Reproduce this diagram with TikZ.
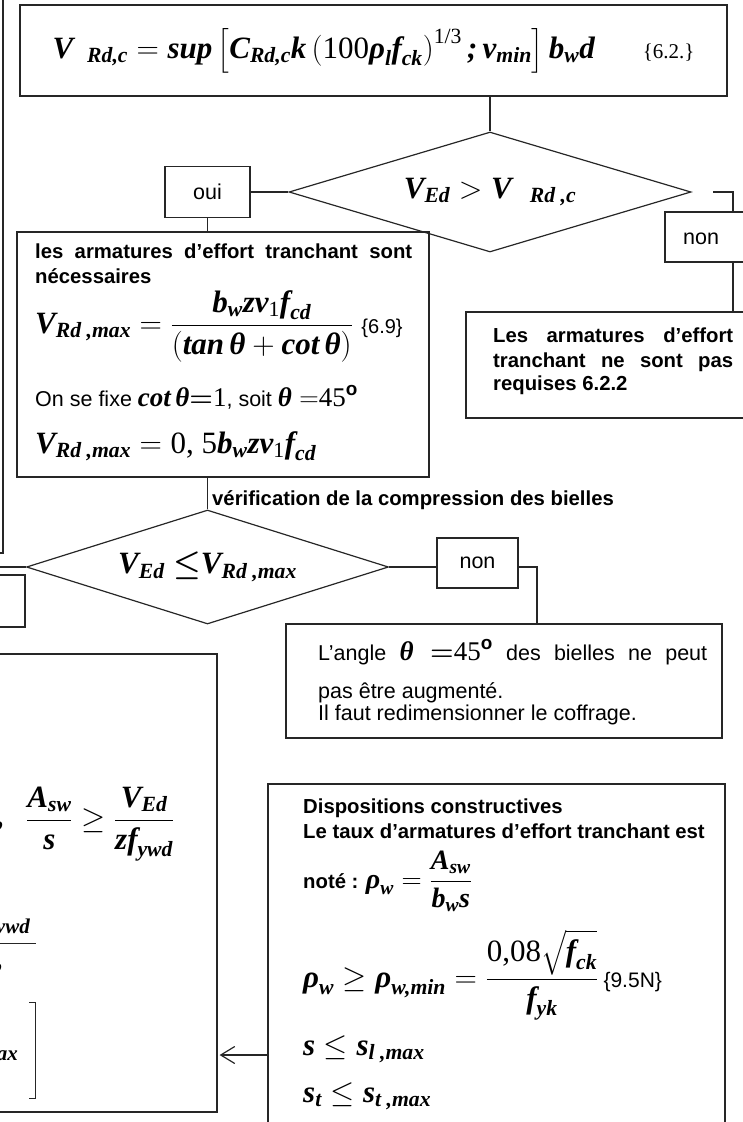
\documentclass[tikz,border=0pt]{standalone}
\usepackage{fix-cm}
\usepackage{amsmath}
\usepackage{fontspec}
\setmainfont{Liberation Sans}
\newfontfamily\timesf{Liberation Serif}
\usetikzlibrary{shapes.geometric,arrows.meta}
% lettres des formules
\newcommand{\bi}[1]{\text{\timesf\bfseries\itshape #1}}
\newcommand{\tn}[1]{\text{\timesf #1}}
\tikzset{
  box/.style={draw=black!85, line width=1.2pt, inner sep=0pt},
  decision/.style={diamond, aspect=3.3, draw=black!85, line width=1.2pt, inner sep=0pt},
  link/.style={draw=black!85, line width=1.2pt},
  gras/.style={font=\fontsize{20.3}{25}\selectfont\bfseries, inner sep=0pt},
  txt/.style={font=\fontsize{21.5}{26}\selectfont, inner sep=0pt},
  maths/.style={font=\fontsize{31}{36}\selectfont, inner sep=0pt}
}
\begin{document}
\begin{tikzpicture}[x=1pt,y=-1pt]
\useasboundingbox (0,0) rectangle (742,1122);
% Boites coupees a gauche
\node[box, minimum width=300pt, minimum height=580pt] (prev) at (-147,263) {};
\node[box, minimum width=130pt, minimum height=52pt] (ok) at (-40,601) {};
\node[box, minimum width=517pt, minimum height=458pt] (calc) at (-41.5,883) {};
% V_Rd,c
\node[box, minimum width=707pt, minimum height=91pt, maths] (vrdc) at (373.5,50.5)
  {$\bi{V}_{\hspace{14pt}\bi{Rd,c}} = \bi{sup}\left[\bi{C}_{\bi{Rd,c}}\bi{k}\left(\tn{100}\bi{ρ}_{\bi{l}}\bi{f}_{\bi{ck}}\right)^{\tn{1/3}}\bi{;}\,\bi{v}_{\bi{min}}\right]\bi{b}_{\bi{w}}\bi{d}$\hspace{48pt}{\timesf\fontsize{21}{25}\selectfont\{6.2.\}}};
% Premier test
\node[decision, minimum width=402pt, minimum height=120pt, maths] (test1) at (490,192)
  {$\bi{V}_{\bi{Ed}} > \bi{V}_{\hspace{18pt}\bi{Rd ,c}}$};
\node[box, minimum width=85pt, minimum height=51pt, txt] (oui) at (207.5,192) {oui};
\draw[link] (vrdc.south -| test1.north) -- (test1.north);
\draw[link] (oui.east) -- (test1.west);
% Armatures necessaires
\node[box, minimum width=412pt, minimum height=245pt] (need) at (223,354.5) {};
\draw[link] (oui.south) -- (oui.south |- need.north);
\node[gras, anchor=base west] (need1) at (35,258) {\makebox[377pt][s]{les armatures d’effort tranchant sont}};
\node[gras, anchor=base west] (need2) at (35,283) {nécessaires};
\node[maths, anchor=base west] (vrdmax) at (35,333)
  {$\bi{V}_{\bi{Rd ,max}} = \dfrac{\bi{b}_{\bi{w}}\bi{zν}_{\tn{1}}\bi{f}_{\bi{cd}}}{\left(\bi{tan}\,\bi{θ}+\bi{cot}\,\bi{θ}\right)}$ {\fontsize{20}{24}\selectfont\{6.9\}}};
\node[txt, anchor=base west] (cot) at (35,406)
  {On se fixe {\fontsize{27}{32}\selectfont$\bi{cot}\,\bi{θ}{\boldsymbol{=}}\tn{1}$}, soit {\fontsize{27}{32}\selectfont$\bi{θ}\ {=}\tn{45}^{\textbf{o}}$}};
\node[maths, anchor=base west] (vrdmax2) at (35,453)
  {$\bi{V}_{\bi{Rd ,max}} = \tn{0, 5}\bi{b}_{\bi{w}}\bi{zν}_{\tn{1}}\bi{f}_{\bi{cd}}$};
% Non requises
\coordinate (gap1) at (713,192);
\coordinate (turn1) at (733,192);
\node[box, minimum width=105pt, minimum height=50pt] (non1) at (717.5,237) {};
\node[txt, anchor=base west] (nonlab1) at (683,244) {non};
\draw[link] (gap1) -- (turn1) -- (turn1 |- non1.north);
\node[box, minimum width=300pt, minimum height=106pt] (req) at (616,365) {};
\draw[link] (turn1 |- non1.south) -- (turn1 |- req.north);
\node[gras, anchor=base west] (req1) at (493,342) {\makebox[240pt][s]{Les armatures d’effort}};
\node[gras, anchor=base west] (req2) at (493,367) {\makebox[240pt][s]{tranchant ne sont pas}};
\node[gras, anchor=base west] (req3) at (493,390) {requises 6.2.2};
% Compression des bielles
\node[decision, minimum width=362pt, minimum height=114pt, maths] (test2) at (207.5,567)
  {$\bi{V}_{\bi{Ed}}\ {\boldsymbol{\leq}}\bi{V}_{\bi{Rd ,max}}$};
\draw[link] (need.south -| test2.north) -- (test2.north);
\node[gras, anchor=west] (bielles) at (212,500) {vérification de la compression des bielles};
\coordinate (offl) at (-60,567);
\draw[link] (test2.west) -- (offl);
\node[box, minimum width=81pt, minimum height=50pt, txt] (non2) at (477.5,563) {non};
\draw[link] (test2.east) -- (test2.east -| non2.west);
\coordinate (turn2) at (537,567);
\node[box, minimum width=436pt, minimum height=114pt] (angle) at (504,681) {};
\draw[link] (non2.east |- turn2) -- (turn2) -- (turn2 |- angle.north);
\node[txt, anchor=base west] (angle1) at (318,660)
  {\makebox[389pt][s]{L’angle {\fontsize{27}{32}\selectfont$\bi{θ}\ {\boldsymbol{=}}\tn{45}^{\textbf{o}}$} des bielles ne peut}};
\node[txt, anchor=base west] (angle2) at (318,698) {pas être augmenté.};
\node[txt, anchor=base west] (angle3) at (318,720) {Il faut redimensionner le coffrage.};
% Dispositions constructives
\node[box, minimum width=457pt, minimum height=416pt] (disp) at (496.5,992) {};
\node[gras, anchor=base west] (disp1) at (303,813) {Dispositions constructives};
\node[gras, anchor=base west] (disp2) at (303,838) {Le taux d’armatures d’effort tranchant est};
\node[gras, anchor=base west] (disp3) at (303,888)
  {noté : {\fontsize{28}{32}\selectfont$\bi{ρ}_{\bi{w}} = \dfrac{\bi{A}_{\bi{sw}}}{\bi{b}_{\bi{w}}\bi{s}}$}};
\node[maths, anchor=base west] (disp4) at (303,987)
  {$\bi{ρ}_{\bi{w}} \geq \bi{ρ}_{\bi{w,min}} = \dfrac{\tn{0,08}\sqrt{\bi{f}_{\bi{ck}}}}{\bi{f}_{\bi{yk}}}$\,{\fontsize{21}{25}\selectfont\{9.5N\}}};
\node[maths, anchor=base west] (disp5) at (303,1055) {$\bi{s} \leq \bi{s}_{\bi{l ,max}}$};
\node[maths, anchor=base west] (disp6) at (303,1102) {$\bi{s}_{\bi{t}} \leq \bi{s}_{\bi{t ,max}}$};
\coordinate (arr) at (268,1055);
\draw[link, -{Straight Barb[length=14pt,width=17pt]}, shorten >=2pt] (arr) -- (arr -| calc.east);
% Morceaux visibles de la boite de gauche
\node[maths, anchor=base west] (asw) at (26,828)
  {$\dfrac{\bi{A}_{\bi{sw}}}{\bi{s}} \geq \dfrac{\bi{V}_{\bi{Ed}}}{\bi{zf}_{\bi{ywd}}}$};
\node[maths, anchor=base east] (comma) at (5,826) {$\bi{,}$};
\node[font=\fontsize{21}{25}\selectfont, inner sep=0pt, anchor=base east] (ywd) at (30,933) {$\bi{ywd}$};
\draw[link, line width=1pt] (-5,943) -- (36,943);
\node[maths, anchor=base east] (comma2) at (4,968) {$\bi{,}$};
\draw[link, line width=1pt] (29,1002) -- (35,1002) -- (35,1098) -- (29,1098);
\node[font=\fontsize{21}{25}\selectfont, inner sep=0pt, anchor=base east] (ax) at (18,1060) {$\bi{ax}$};
\end{tikzpicture}
\end{document}
